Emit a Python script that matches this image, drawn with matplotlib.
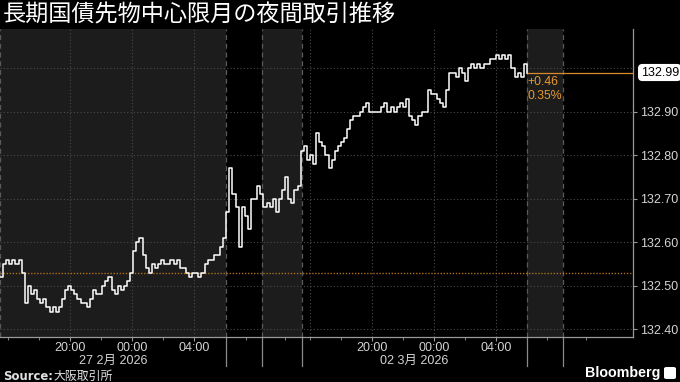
import numpy as np
import matplotlib
matplotlib.use("Agg")
import matplotlib.pyplot as plt
from matplotlib.transforms import blended_transform_factory
from matplotlib.patches import FancyBboxPatch

plt.rcParams['font.family'] = ['Liberation Sans', 'Noto Sans CJK JP', 'DejaVu Sans']

# ---------------- data ----------------
title = "長期国債先物中心限月の夜間取引推移"
# price, sampled every 0.2 chart-hours from 15:30 (27 Feb) on the compressed session axis
price = [
    132.52, 132.55, 132.56, 132.55, 132.56, 132.55, 132.56, 132.53, 132.46, 132.50,
    132.48, 132.49, 132.47, 132.46, 132.47, 132.45, 132.44, 132.45, 132.44, 132.45,
    132.47, 132.49, 132.50, 132.49, 132.48, 132.47, 132.46, 132.46, 132.45, 132.47,
    132.49, 132.48, 132.48, 132.50, 132.51, 132.52, 132.49, 132.48, 132.50, 132.49,
    132.50, 132.51, 132.53, 132.58, 132.60, 132.61, 132.57, 132.54, 132.53, 132.55,
    132.54, 132.55, 132.56, 132.55, 132.55, 132.56, 132.55, 132.56, 132.54, 132.54,
    132.53, 132.52, 132.53, 132.53, 132.52, 132.53, 132.55, 132.56, 132.56, 132.57,
    132.57, 132.59, 132.61, 132.67, 132.77, 132.71, 132.68, 132.59, 132.68, 132.66,
    132.63, 132.70, 132.70, 132.73, 132.71, 132.68, 132.69, 132.68, 132.70, 132.67,
    132.70, 132.72, 132.75, 132.70, 132.69, 132.72, 132.73, 132.81, 132.82, 132.79,
    132.80, 132.78, 132.85, 132.83, 132.82, 132.80, 132.77, 132.79, 132.81, 132.82,
    132.83, 132.84, 132.86, 132.88, 132.89, 132.89, 132.90, 132.91, 132.92, 132.90,
    132.90, 132.90, 132.90, 132.91, 132.92, 132.90, 132.91, 132.90, 132.91, 132.92,
    132.91, 132.93, 132.89, 132.88, 132.87, 132.89, 132.90, 132.90, 132.95, 132.94,
    132.94, 132.93, 132.92, 132.91, 132.95, 132.99, 132.99, 132.98, 133.00, 132.99,
    132.97, 133.00, 133.01, 133.00, 133.01, 133.00, 133.01, 133.01, 133.02, 133.02,
    133.03, 133.02, 133.03, 133.02, 133.03, 133.00, 132.98, 132.99, 132.98, 133.01,
    132.99,
]
hours = np.arange(len(price)) * 0.2

prev_close = 132.53
last_price = 132.99
change_text = "+0.46"
pct_text = "0.35%"

time_tick_pos = [4.5, 8.5, 12.5, 24.0, 28.0, 32.0]
time_tick_labels = ["20:00", "00:00", "04:00", "20:00", "00:00", "04:00"]
minor_tick_pos = [0.5, 2.5, 6.5, 10.5, 15.9, 18.4, 20.0, 22.0, 26.0, 30.0, 35.3, 37.8]
date_labels = ["27 2月 2026", "02 3月 2026"]
date_label_pos = [7.3, 26.7]
grid_v_pos = [4.5, 8.5, 12.5, 20.0, 24.0, 28.0, 32.0]
session_edges = [0.0, 14.58, 16.9, 19.48, 34.0, 36.3]
shaded_spans = [(0.0, 14.58), (16.9, 19.48), (34.0, 36.3)]
y_ticks = [132.40, 132.50, 132.60, 132.70, 132.80, 132.90]
y_grid = [132.40, 132.50, 132.60, 132.70, 132.80, 132.90, 133.00]
source_label = "Source:"
source_name = "大阪取引所"

# ---------------- figure ----------------
W, H = 680, 382
fig = plt.figure(figsize=(W / 100, H / 100), dpi=100, facecolor="black")
ax_left, ax_right, ax_top, ax_bot = 0, 633, 29, 337
ax_h = ax_bot - ax_top
ax = fig.add_axes([ax_left / W, 1 - ax_bot / H, (ax_right - ax_left) / W, ax_h / H])
ax.set_facecolor("black")
xmax = 40.84
ax.set_xlim(0, xmax)
ax.set_ylim(132.382, 133.09)

for a, b in shaded_spans:
    ax.axvspan(a, b, color="#1c1c1c", lw=0, zorder=0)

for y in y_grid:
    ax.axhline(y, color="#4a4a4a", lw=0.8, ls=(0, (1, 2)), zorder=1)
for x in grid_v_pos:
    ax.axvline(x, color="#4a4a4a", lw=0.8, ls=(0, (1, 2)), zorder=1)
for x in session_edges:
    ax.axvline(x, color="#5a5a5a", lw=0.9, ls=(0, (4, 3)), zorder=1)

trans = blended_transform_factory(ax.transData, ax.transAxes)
for x in session_edges[1:]:
    ax.plot([x, x], [0, -29 / ax_h], color="#8a8a8a", lw=0.9, transform=trans, clip_on=False)

# previous close
ax.axhline(prev_close, color="#b06d1a", lw=1.0, ls=(0, (1, 1.2)), zorder=2)

# price line
ax.plot(hours, price, color="white", lw=1.1, drawstyle="steps-post", zorder=4)

# last price line
ax.plot([hours[-1], xmax], [last_price, last_price], color="#d88a2a", lw=0.9, zorder=3)
ax.text(hours[-1] + 0.05, 132.969, change_text, color="#e89a30", fontsize=8.8,
        va="center", ha="left")
ax.text(hours[-1] + 0.05, 132.937, pct_text, color="#e89a30", fontsize=8.8,
        va="center", ha="left")

# spines
for s in ["top", "left"]:
    ax.spines[s].set_visible(False)
for s in ["right", "bottom"]:
    ax.spines[s].set_color("#9a9a9a")
    ax.spines[s].set_linewidth(0.9)

ax.yaxis.tick_right()
ax.set_yticks(y_ticks)
ax.set_yticklabels([f"{v:.2f}" for v in y_ticks])
ax.tick_params(axis="y", colors="#9a9a9a", labelcolor="#d4d4d4", labelsize=9, length=3, pad=2)

ax.set_xticks(time_tick_pos)
ax.set_xticklabels(time_tick_labels)
ax.set_xticks(minor_tick_pos, minor=True)
ax.tick_params(axis="x", which="major", colors="#9a9a9a", labelcolor="#d4d4d4",
               labelsize=9, length=3, pad=0.5)
ax.tick_params(axis="x", which="minor", colors="#9a9a9a", length=2.5)

for lbl, pos in zip(date_labels, date_label_pos):
    ax.text(pos, -26.5 / ax_h, lbl, transform=trans, ha="center", va="baseline",
            color="#d4d4d4", fontsize=9)

# last price tag
ax.text(1.012, last_price, f"{last_price:.2f}",
        transform=blended_transform_factory(ax.transAxes, ax.transData),
        ha="left", va="center", color="black", fontsize=9,
        bbox=dict(boxstyle="round,pad=0.15,rounding_size=0.3", fc="white", ec="white"))

# title
fig.text(3 / W, 1 - 15 / H, title, color="white", fontsize=16.7, ha="left", va="center",
         family=["Noto Sans CJK JP"])

# footer
fig.text(3 / W, 1 - 376 / H, source_label, color="#e0e0e0", fontsize=8.4, fontweight="bold",
         ha="left", va="center", family=["DejaVu Sans"])
fig.text(53 / W, 1 - 376 / H, source_name, color="#e0e0e0", fontsize=8.6,
         ha="left", va="center", family=["Noto Sans CJK JP"])
fig.text(660 / W, 1 - 373 / H, "Bloomberg", color="white", fontsize=10.3, fontweight="bold",
         ha="right", va="center", family=["Liberation Sans"])
fig.patches.append(FancyBboxPatch((664 / W, 1 - 379 / H), 12 / W, 12 / H,
                                  boxstyle="round,pad=0,rounding_size=0.004",
                                  fc="white", ec="none", transform=fig.transFigure))

fig.savefig("out.png", dpi=100, facecolor="black")
